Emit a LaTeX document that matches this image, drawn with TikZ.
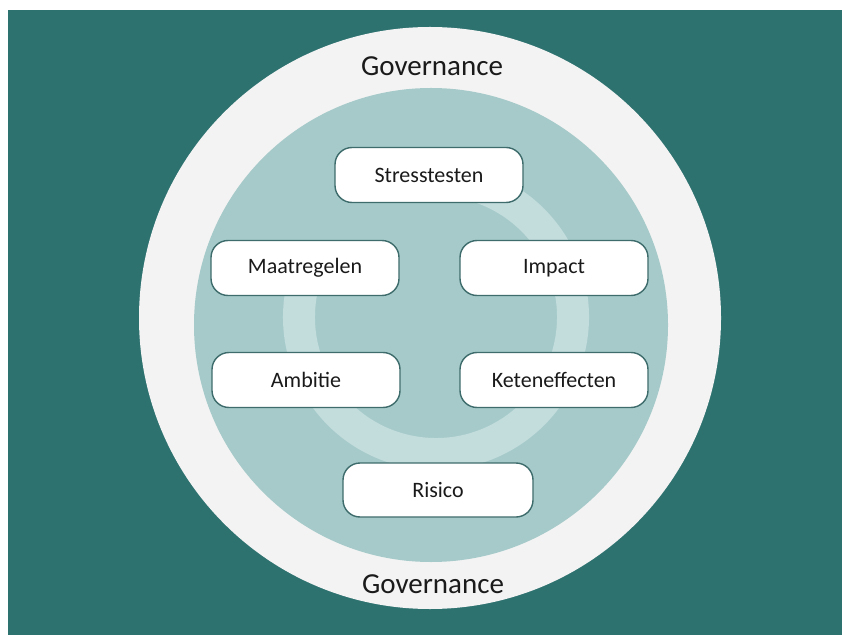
\documentclass[tikz,border=0pt]{standalone}
\usepackage{fontspec}
\setmainfont{Carlito}
\definecolor{bgteal}{HTML}{2E7270}
\definecolor{outerc}{HTML}{F3F3F3}
\definecolor{innerc}{HTML}{A6CACA}
\definecolor{ringc}{HTML}{C3DCDC}
\definecolor{boxline}{HTML}{3E6B6B}
\definecolor{txt}{HTML}{1A1A1A}
\tikzset{
  stage/.style={draw=boxline, line width=1.4pt, fill=white, rounded corners=17pt,
    minimum width=188pt, minimum height=55pt, inner sep=0pt, text=txt,
    font=\fontsize{22}{26}\selectfont},
  govlabel/.style={text=txt, anchor=base, inner sep=0pt, font=\fontsize{29}{34}\selectfont}
}
\begin{document}
\begin{tikzpicture}[x=1pt,y=1pt]
\useasboundingbox (0,0) rectangle (842,635);
\fill[white] (0,0) rectangle (842,635);
\fill[bgteal] (8,0) rectangle (842,625);
\fill[outerc] (430,317) circle[radius=291];
\fill[innerc] (431,310) circle[radius=237];
\draw[ringc, line width=32pt] (436,318) ++(170:137) arc[start angle=170, end angle=435, radius=137];
\node[govlabel] (govtop) at (432,559) {Governance};
\node[govlabel] (govbot) at (433,42) {Governance};
\node[stage] (stress) at (429,460) {Stresstesten};
\node[stage] (maat) at (305,367) {Maatregelen};
\node[stage] (impact) at (554,367) {Impact};
\node[stage] (ambitie) at (306,255) {Ambitie};
\node[stage] (keten) at (554,255) {Keteneffecten};
\node[stage, minimum width=190pt, minimum height=54pt] (risico) at (438,145) {Risico};
\end{tikzpicture}
\end{document}
